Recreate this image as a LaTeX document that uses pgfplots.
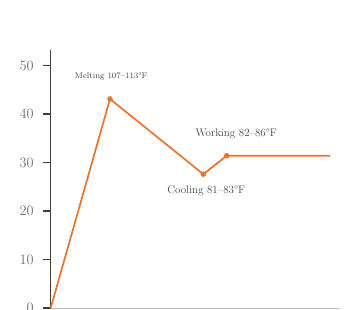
\documentclass[border=0pt]{standalone}
\usepackage{pgfplots}
\pgfplotsset{compat=1.18}
\definecolor{lineor}{HTML}{E8742F}
\definecolor{axgray}{HTML}{4A3D38}
\definecolor{txtgray}{HTML}{454545}
\definecolor{ticklab}{HTML}{6E6E6E}
\begin{document}
\begin{tikzpicture}
\begin{axis}[
  scale only axis,
  width=289pt, height=258pt,
  xmin=0, xmax=289, ymin=0, ymax=53.2,
  axis x line*=bottom, axis y line*=left,
  x axis line style={draw=black!25, line width=0.8pt, -},
  y axis line style={draw=axgray, line width=1.1pt, -},
  xtick=\empty,
  ytick={0,10,20,30,40,50},
  ytick pos=left,
  every tick/.style={draw=axgray, line width=1.3pt},
  tick align=outside,
  major tick length=7.5pt,
  yticklabel style={font=\Large, text=ticklab, xshift=-6pt},
  clip=false,
]
\addplot[lineor, line width=1.7pt, mark=none] coordinates {
 (0,0) (59.3,43.1) (152.6,27.6) (176,31.4) (279.3,31.4)
};
\addplot[only marks, mark=*, mark size=2.5pt, lineor, mark options={draw=lineor, fill=lineor}] coordinates {
 (59.3,43.1) (152.6,27.6) (176,31.4)
};
\node[font=\fontsize{8.3}{10}\selectfont, text=txtgray] at (axis cs:60.5,47.7) {Melting 107--113\textdegree F};
\node[font=\fontsize{11}{13}\selectfont, text=txtgray] at (axis cs:185.5,35.9) {Working 82--86\textdegree F};
\node[font=\fontsize{11}{13}\selectfont, text=txtgray] at (axis cs:155.5,24.1) {Cooling 81--83\textdegree F};
\coordinate (orig) at (rel axis cs:0,0);
\end{axis}
\pgfresetboundingbox
\path[use as bounding box] ([shift={(-50.7pt,-1pt)}]orig) rectangle ([shift={(293.3pt,308pt)}]orig);
\end{tikzpicture}
\end{document}
